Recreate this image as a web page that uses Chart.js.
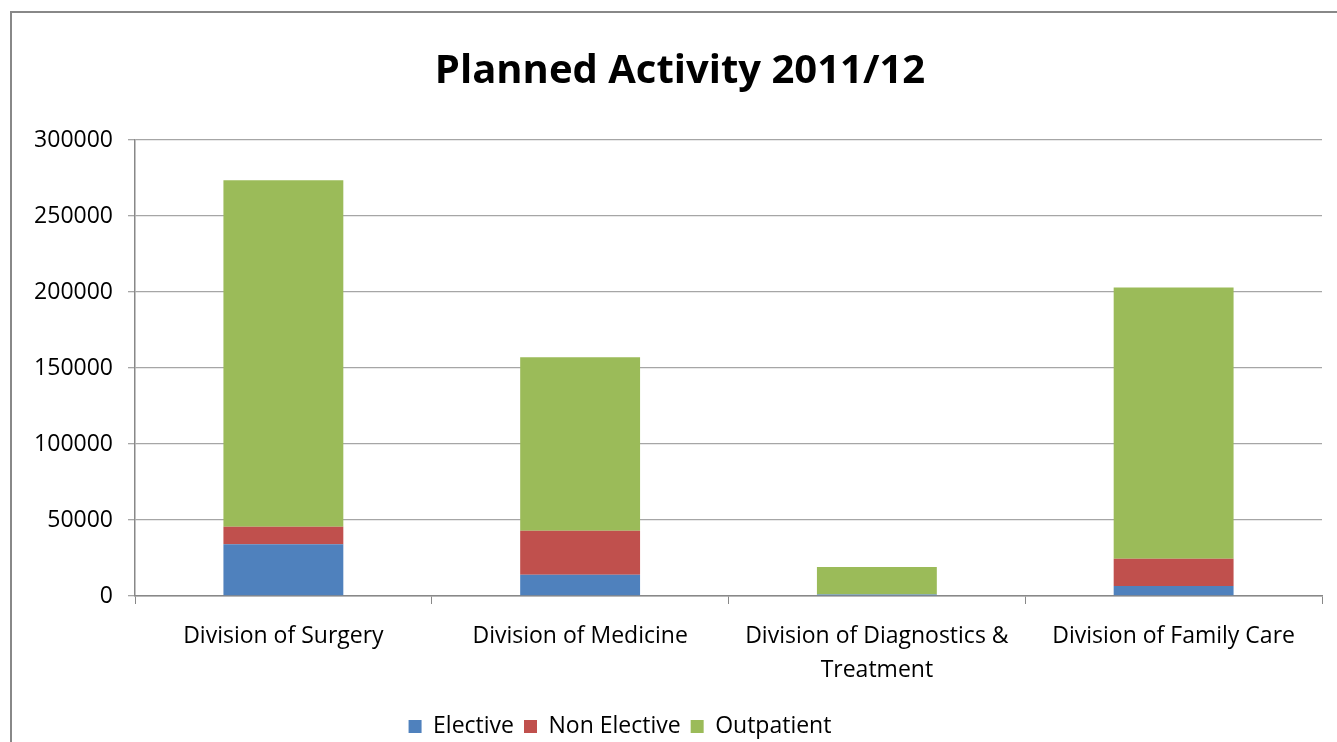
<!DOCTYPE html>
<html>
<head>
<meta charset="utf-8">
<script src="https://cdn.jsdelivr.net/npm/chart.js@4/dist/chart.umd.min.js"></script>
<style>
  html, body { margin: 0; padding: 0; background: #fff; overflow: hidden; width: 1337px; height: 742px; }
  #frame { position: absolute; left: 10px; top: 11px; width: 1400px; height: 800px;
           border-left: 2px solid #888; border-top: 2px solid #888; box-sizing: border-box; }
  #wrap { position: absolute; left: 0; top: 0; width: 1337px; height: 748px; }
</style>
</head>
<body>
<div id="frame"></div>
<div id="wrap"><canvas id="c" width="1337" height="748"></canvas></div>
<script>
const categories = ["Division of Surgery", "Division of Medicine", ["Division of Diagnostics &", "Treatment"], "Division of Family Care"];
const seriesNames = ["Elective", "Non Elective", "Outpatient"];
const elective = [34000, 14000, 1000, 6500];
const nonElective = [11500, 29000, 0, 18000];
const outpatient = [228000, 114000, 18000, 178500];
const yTicks = [0, 50000, 100000, 150000, 200000, 250000, 300000];
const colors = ["#4F81BD", "#C0504D", "#9BBB59"];

const FONT = "'Open Sans', Lato, sans-serif";

// shift title and legend horizontally to match the reference placement
const shiftBlocks = {
  id: 'shiftBlocks',
  afterLayout(chart) {
    const t = chart.titleBlock;
    if (t) { t.left += 19; t.right += 19; }
    const l = chart.legend;
    if (l) { l.left -= 41; l.right -= 41; }
  }
};

new Chart(document.getElementById('c'), {
  type: 'bar',
  data: {
    labels: categories,
    datasets: [
      { label: seriesNames[0], data: elective, backgroundColor: colors[0] },
      { label: seriesNames[1], data: nonElective, backgroundColor: colors[1] },
      { label: seriesNames[2], data: outpatient, backgroundColor: colors[2] }
    ]
  },
  plugins: [shiftBlocks],
  options: {
    responsive: false,
    animation: false,
    devicePixelRatio: 1,
    barPercentage: 0.404,
    categoryPercentage: 1,
    layout: { padding: { left: 0, right: 15, top: 0, bottom: 0 } },
    plugins: {
      title: {
        display: true,
        text: 'Planned Activity 2011/12',
        color: '#000',
        font: { family: FONT, size: 40, weight: 'bold' },
        padding: { top: 48, bottom: 44 }
      },
      legend: {
        position: 'bottom',
        labels: {
          color: '#000',
          font: { family: FONT, size: 23 },
          boxWidth: 13,
          boxHeight: 13,
          padding: 10
        }
      },
      tooltip: { enabled: false }
    },
    scales: {
      x: {
        stacked: true,
        grid: { display: true, drawOnChartArea: false, drawTicks: true, tickLength: 8, color: '#888', offset: true },
        border: { display: true, color: '#888', width: 1.5 },
        ticks: { color: '#000', font: { family: FONT, size: 23, lineHeight: 1.48 }, padding: 15, maxRotation: 0, autoSkip: false },
        afterFit(scale) { scale.height = 109; }
      },
      y: {
        stacked: true,
        min: 0,
        max: 300000,
        afterBuildTicks(scale) { scale.ticks = yTicks.map(v => ({ value: v })); },
        grid: { color: '#a6a6a6', lineWidth: 1.3, tickLength: 7 },
        border: { display: true, color: '#888', width: 1.5 },
        ticks: { color: '#000', font: { family: FONT, size: 23 }, padding: 15, callback: (v) => String(v) },
        afterFit(scale) { scale.width = 135; }
      }
    }
  }
});
</script>
</body>
</html>
